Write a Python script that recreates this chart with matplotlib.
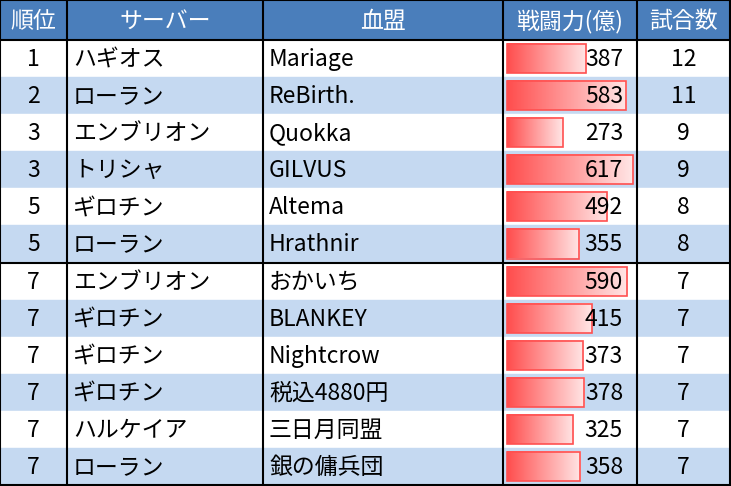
import numpy as np
import matplotlib.pyplot as plt
from matplotlib.patches import Rectangle
from matplotlib.colors import LinearSegmentedColormap

plt.rcParams['font.family'] = 'Noto Sans CJK JP'

headers = ['順位', 'サーバー', '血盟', '戦闘力(億)', '試合数']
ranks = ['1', '2', '3', '3', '5', '5', '7', '7', '7', '7', '7', '7']
servers = ['ハギオス', 'ローラン', 'エンブリオン', 'トリシャ', 'ギロチン', 'ローラン',
           'エンブリオン', 'ギロチン', 'ギロチン', 'ギロチン', 'ハルケイア', 'ローラン']
clans = ['Mariage', 'ReBirth.', 'Quokka', 'GILVUS', 'Altema', 'Hrathnir',
         'おかいち', 'BLANKEY', 'Nightcrow', '税込4880円', '三日月同盟', '銀の傭兵団']
power = [387, 583, 273, 617, 492, 355, 590, 415, 373, 378, 325, 358]
matches = [12, 11, 9, 9, 8, 8, 7, 7, 7, 7, 7, 7]

W, H = 731, 486
cols = [0, 67, 263, 503, 637, 730]
head_h = 40
row_h = (H - 1 - head_h) / len(ranks)
fs = 16.5

fig = plt.figure(figsize=(W / 100, H / 100), dpi=100)
ax = fig.add_axes([0, 0, 1, 1])
ax.set_xlim(0, W)
ax.set_ylim(H, 0)
ax.axis('off')

# header
ax.add_patch(Rectangle((0, 0), W, head_h, color='#4a7ebb', zorder=0))
for i, h in enumerate(headers):
    ax.text((cols[i] + cols[i + 1]) / 2, head_h / 2 + 1, h, color='white',
            fontsize=fs, ha='center', va='center')

grad = np.linspace(0, 1, 256).reshape(1, -1)
cmap = LinearSegmentedColormap.from_list('bar', ['#ff4d4d', '#ffe6e6'])
bar_max = 126

for r in range(len(ranks)):
    y0 = head_h + r * row_h
    bg = '#c5d9f1' if r % 2 == 1 else 'white'
    ax.add_patch(Rectangle((0, y0), W, row_h, color=bg, zorder=0))
    yc = y0 + row_h / 2 + 1
    ax.text((cols[0] + cols[1]) / 2, yc, ranks[r], fontsize=fs, ha='center', va='center')
    ax.text(cols[1] + 6, yc, servers[r], fontsize=fs, ha='left', va='center')
    ax.text(cols[2] + 6, yc, clans[r], fontsize=fs, ha='left', va='center')
    # data bar
    bl = power[r] / max(power) * bar_max
    bx = cols[3] + 4
    ax.imshow(grad, cmap=cmap, extent=(bx, bx + bl, y0 + row_h - 4, y0 + 4),
              aspect='auto', zorder=1)
    ax.add_patch(Rectangle((bx, y0 + 4), bl, row_h - 8, fill=False,
                           ec='#ff5050', lw=1.2, zorder=2))
    ax.text(cols[4] - 14, yc, str(power[r]), fontsize=fs, ha='right', va='center', zorder=3)
    ax.text((cols[4] + cols[5]) / 2, yc, str(matches[r]), fontsize=fs,
            ha='center', va='center')

# grid lines
for x in cols:
    ax.plot([x, x], [0, H - 1], color='black', lw=1.5, zorder=4)
ax.plot([0, W], [0.5, 0.5], color='black', lw=1.5, zorder=4)
ax.plot([0, W], [head_h, head_h], color='black', lw=1.5, zorder=4)
ax.plot([0, W], [H - 1, H - 1], color='black', lw=1.5, zorder=4)
ax.plot([0, W], [head_h + 6 * row_h] * 2, color='black', lw=1.5, zorder=4)

fig.savefig('out.png', dpi=100)
